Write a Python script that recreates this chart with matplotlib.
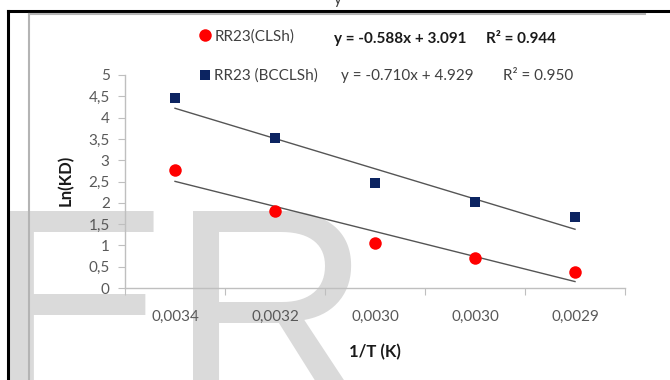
import numpy as np
import matplotlib
matplotlib.use("Agg")
import matplotlib.pyplot as plt
from matplotlib.lines import Line2D

plt.rcParams['font.family'] = ['Lato', 'DejaVu Sans']

# 1/T categories (as labelled on the axis) and Ln(KD) values
temps = ['0,0034', '0,0032', '0,0030', '0,0030', '0,0029']
ln_kd_clsh = [2.76, 1.81, 1.05, 0.71, 0.38]
ln_kd_bcclsh = [4.46, 3.51, 2.46, 2.01, 1.66]

# linear fits (category index 1..5 as x)
fit_clsh = (-0.588, 3.091, 0.944)
fit_bcclsh = (-0.710, 4.929, 0.950)

W, H = 670, 380


def fx(px):
    return px / W


def fy(py):
    return 1 - py / H


fig = plt.figure(figsize=(W / 100, H / 100), dpi=100)
fig.patch.set_facecolor('white')

# big grey letters in the background
fig.text(fx(-16), fy(403), 'ER', family='Liberation Sans', fontsize=201,
         color='#dadada', ha='left', va='baseline', zorder=0)

# page frame lines
fig.add_artist(Line2D([fx(8), fx(670)], [fy(11), fy(11)], color='black', lw=2.2, zorder=5))
fig.add_artist(Line2D([fx(8), fx(8)], [fy(11), fy(381)], color='black', lw=2.2, zorder=5))
fig.add_artist(Line2D([fx(29), fx(645)], [fy(14), fy(14)], color='#b4b4b4', lw=1.5, zorder=5))
fig.add_artist(Line2D([fx(29.5), fx(29.5)], [fy(14), fy(381)], color='#b4b4b4', lw=1.5, zorder=5))

# cut-off caption letter at the very top
fig.text(fx(334), fy(4), 'y', fontsize=11, color='#404040', ha='left', va='baseline')

ax = fig.add_axes([fx(125), 92 / H, 500 / W, 213 / H])
ax.set_zorder(1)
ax.patch.set_alpha(0)

x = np.arange(1, len(temps) + 1)
s1, = ax.plot(x, ln_kd_clsh, 'o', color='#ff0000', markersize=9, markeredgewidth=0,
              label='RR23(CLSh)', zorder=4)
s2, = ax.plot(x, ln_kd_bcclsh, 's', color='#0c2461', markersize=7, markeredgewidth=0,
              label='RR23 (BCCLSh)', zorder=4)

for slope, icpt, _ in (fit_clsh, fit_bcclsh):
    ax.plot(x, slope * x + icpt, color='#555555', lw=1.0, zorder=3)

ax.set_xlim(0.5, 5.5)
ax.set_ylim(0, 5)
for side in ('top', 'right'):
    ax.spines[side].set_visible(False)
for side in ('left', 'bottom'):
    ax.spines[side].set_color('#bfbfbf')
    ax.spines[side].set_linewidth(1.0)

ax.set_xticks(np.arange(0.5, 6, 1))
ax.set_xticklabels([])
ax.set_xticks(x, minor=True)
ax.set_xticklabels(temps, minor=True)
ax.tick_params(axis='x', which='major', length=5, color='#bfbfbf', direction='out')
ax.tick_params(axis='x', which='minor', length=0, pad=16, labelsize=11, labelcolor='#595959')

yt = np.arange(0, 5.01, 0.5)
ax.set_yticks(yt)
ax.set_yticklabels([f'{v:g}'.replace('.', ',') for v in yt])
ax.tick_params(axis='y', length=5, color='#bfbfbf', pad=6, labelsize=11, labelcolor='#595959')

fig.text(fx(66), fy(180), 'Ln(KD)', rotation=90, fontsize=12, fontweight='bold',
         color='#1a1a1a', ha='center', va='center')
fig.text(fx(375), fy(352), '1/T (K)', fontsize=12, fontweight='bold',
         color='#1a1a1a', ha='center', va='center')

ax.legend(handles=[s1, s2], loc='upper left', bbox_to_anchor=(fx(199), fy(29)),
          bbox_transform=fig.transFigure, frameon=False, borderpad=0, borderaxespad=0,
          handlelength=0.8, handletextpad=0.2, labelspacing=1.65, fontsize=11,
          labelcolor='#404040')

# regression equations
fig.text(fx(334), fy(39), f'y = {fit_clsh[0]:.3f}x + {fit_clsh[1]:.3f}', fontsize=11,
         fontweight='bold', color='#1a1a1a', va='center')
fig.text(fx(486), fy(39), f'R² = {fit_clsh[2]:.3f}', fontsize=11,
         fontweight='bold', color='#1a1a1a', va='center')
fig.text(fx(341), fy(76), f'y = {fit_bcclsh[0]:.3f}x + {fit_bcclsh[1]:.3f}', fontsize=11,
         color='#404040', va='center')
fig.text(fx(503), fy(76), f'R² = {fit_bcclsh[2]:.3f}', fontsize=11,
         color='#404040', va='center')

fig.savefig('out.png', dpi=100)
